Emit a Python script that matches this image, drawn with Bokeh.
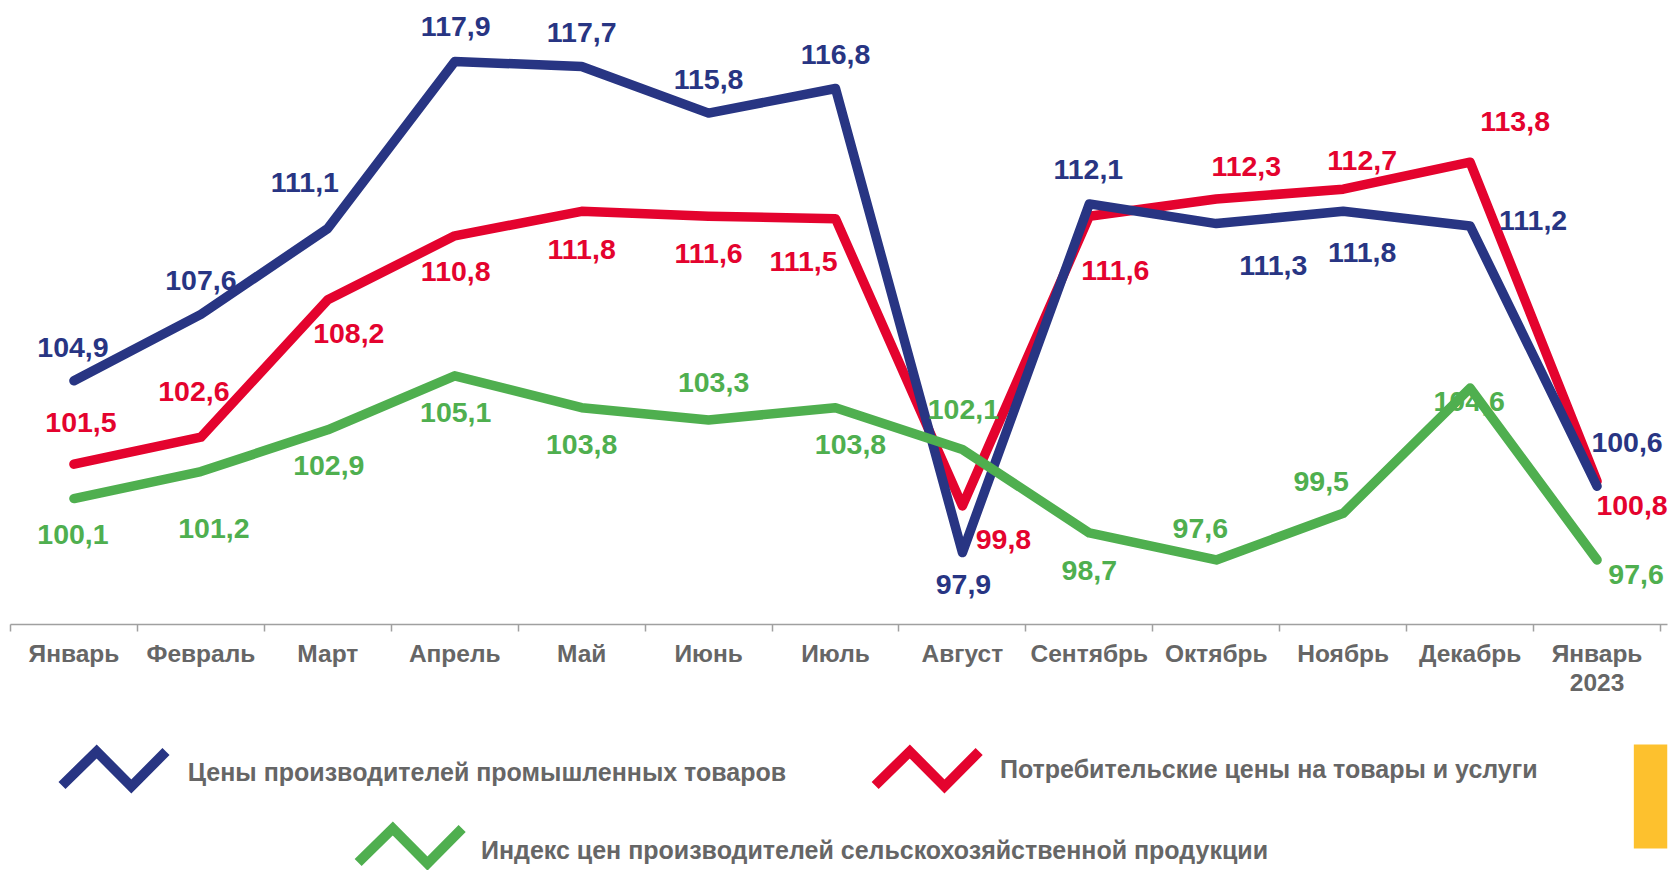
from bokeh.plotting import figure
from bokeh.layouts import column
from bokeh.models import ColumnDataSource, Range1d, FixedTicker, LinearAxis
from bokeh.core.properties import value
from bokeh.embed import file_html
from bokeh.resources import INLINE

# ---- data ----
months = ["Январь", "Февраль", "Март", "Апрель", "Май", "Июнь", "Июль",
          "Август", "Сентябрь", "Октябрь", "Ноябрь", "Декабрь", "Январь\n2023"]
industrial = [104.9, 107.6, 111.1, 117.9, 117.7, 115.8, 116.8, 97.9, 112.1, 111.3, 111.8, 111.2, 100.6]
consumer = [101.5, 102.6, 108.2, 110.8, 111.8, 111.6, 111.5, 99.8, 111.6, 112.3, 112.7, 113.8, 100.8]
agri = [100.1, 101.2, 102.9, 105.1, 103.8, 103.3, 103.8, 102.1, 98.7, 97.6, 99.5, 104.6, 97.6]
series_names = ["Цены производителей промышленных товаров",
                "Потребительские цены на товары и услуги",
                "Индекс цен производителей сельскохозяйственной продукции"]

# ---- styles ----
BLUE = "#283583"
RED = "#E4032E"
GREEN = "#4FAF4F"
GRAY = "#666666"
FONT = "Liberation Sans"

# label offsets (px): dx, dy (dy positive = down)
ind_off = [(-1, -33), (0, -34), (-23, -46), (1, -35), (0, -34), (0, -34), (0, -34),
           (1, 32), (-1, -34), (57, 42), (19, 41), (63, -6), (30, -44)]
con_off = [(7, -42), (-7, -46), (21, 34), (1, 36), (0, 38), (0, 37), (-32, 43),
           (41, 34), (26, 54), (30, -33), (19, -29), (45, -41), (35, 24)]
agr_off = [(-1, 36), (13, 57), (1, 36), (1, 37), (0, 37), (5, -37), (15, 37),
           (1, -40), (0, 38), (-16, -31), (-22, -32), (-1, 13), (39, 15)]

xs = list(range(len(months)))
unit_px = 1650 / 13.0
frame_w = 1657

p = figure(width=1673, height=718, output_backend="svg", toolbar_location=None,
           x_range=Range1d(-0.5, -0.5 + frame_w / unit_px),
           y_range=Range1d(94.97, 120.06),
           y_axis_location=None, x_axis_location=None,
           min_border_left=10, min_border_right=6, min_border_top=8, min_border_bottom=94)
p.outline_line_color = None
p.grid.visible = False
p.background_fill_color = "white"
p.border_fill_color = "white"

xaxis = LinearAxis(ticker=FixedTicker(ticks=xs, minor_ticks=[i - 0.5 for i in range(len(months) + 1)]),
                   major_label_overrides={i: m for i, m in enumerate(months)})
xaxis.axis_line_color = "#A0A0A0"
xaxis.axis_line_width = 1.5
xaxis.major_tick_line_color = None
xaxis.major_tick_out = 0
xaxis.major_tick_in = 0
xaxis.minor_tick_line_color = "#A0A0A0"
xaxis.minor_tick_line_width = 1.5
xaxis.minor_tick_out = 7
xaxis.minor_tick_in = 0
xaxis.major_label_standoff = 8
xaxis.major_label_text_font = FONT
xaxis.major_label_text_font_style = "bold"
xaxis.major_label_text_font_size = "24.5px"
xaxis.major_label_text_color = GRAY
xaxis.major_label_text_line_height = 1.1
p.add_layout(xaxis, "below")

def fmt(v):
    return f"{v:.1f}".replace(".", ",")

for vals, color in [(consumer, RED), (industrial, BLUE), (agri, GREEN)]:
    p.line(xs, vals, line_color=color, line_width=9.5, line_join="round", line_cap="round")

for vals, color, offs in [(consumer, RED, con_off), (industrial, BLUE, ind_off), (agri, GREEN, agr_off)]:
    src = ColumnDataSource(dict(x=xs, y=vals, t=[fmt(v) for v in vals],
                                dx=[o[0] for o in offs], dy=[o[1] for o in offs]))
    p.text(x="x", y="y", text="t", x_offset="dx", y_offset="dy", source=src,
           text_color=color, text_font=value(FONT), text_font_style="bold",
           text_font_size="28.5px", text_align="center", text_baseline="middle")

# ---- legend panel ----
lg = figure(width=1673, height=152, output_backend="svg", toolbar_location=None,
            x_range=Range1d(0, 1673), y_range=Range1d(870, 718),
            x_axis_location=None, y_axis_location=None,
            min_border_left=0, min_border_right=0, min_border_top=0, min_border_bottom=0)
lg.outline_line_color = None
lg.grid.visible = False

zig_dx = [0, 35, 70, 105]
zig_dy = [34, 0, 35, 0]
legend_items = [
    (BLUE, 52, 751, 179, 771, series_names[0]),
    (RED, 873, 751, 999, 768, series_names[1]),
    (GREEN, 351, 828, 475, 849, series_names[2]),
]
for color, zx, zy, tx, ty, name in legend_items:
    lg.line([zx + d for d in zig_dx], [zy + d for d in zig_dy], line_color=color,
            line_width=10, line_join="miter", line_cap="butt")
    lg.text(x=[tx], y=[ty], text=[name], text_color=GRAY, text_font=value(FONT),
            text_font_style="bold", text_font_size="25px", text_align="left",
            text_baseline="middle")

lg.quad(left=[1639], right=[1673], top=[744], bottom=[848], fill_color="#FDC12E", line_color=None)

layout = column(p, lg, spacing=0)
open("out.html", "w").write(file_html(layout, INLINE))
